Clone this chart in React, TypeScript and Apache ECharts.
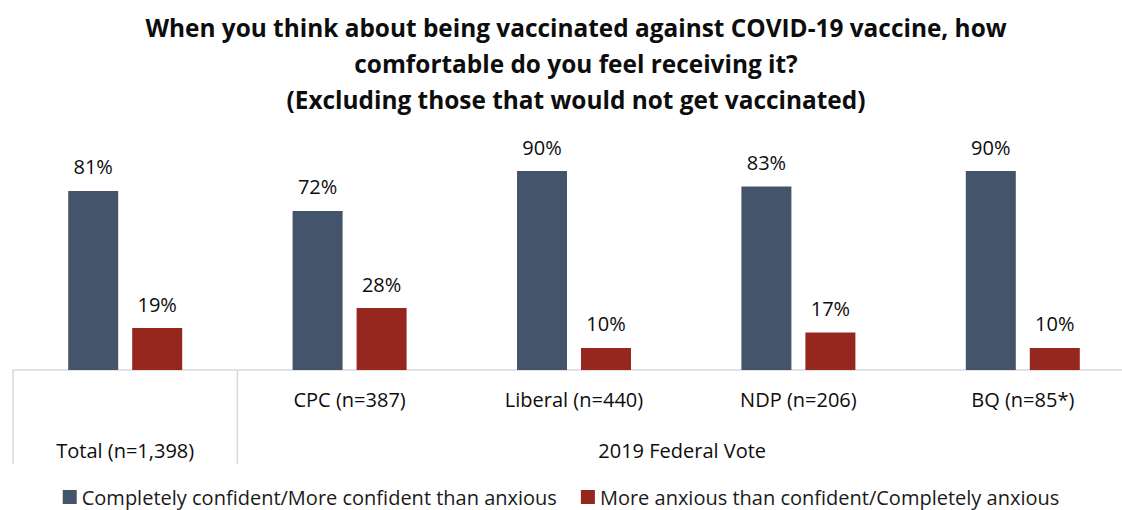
import React, { useEffect, useRef } from 'react';
import * as echarts from 'echarts';

const titleLines = [
  'When you think about being vaccinated against COVID-19 vaccine, how',
  'comfortable do you feel receiving it?',
  '(Excluding those that would not get vaccinated)',
];
const categories = ['Total (n=1,398)', 'CPC (n=387)', 'Liberal (n=440)', 'NDP (n=206)', 'BQ (n=85*)'];
const groupLabel = '2019 Federal Vote';
const seriesNames = [
  'Completely confident/More confident than anxious',
  'More anxious than confident/Completely anxious',
];
const confident = [81, 72, 90, 83, 90];
const anxious = [19, 28, 10, 17, 10];

const FONT = 'Open Sans';
const BLUE = '#44546A';
const RED = '#95271F';
const LINE = '#D9D9D9';

export default function App() {
  const ref = useRef<HTMLDivElement>(null);
  useEffect(() => {
    if (!ref.current) return;
    const chart = echarts.init(ref.current, undefined, { renderer: 'svg' });
    const label = {
      show: true,
      position: 'top' as const,
      distance: 14,
      formatter: '{c}%',
      color: '#0D0D0D',
      fontFamily: FONT,
      fontSize: 20,
    };
    chart.setOption({
      animation: false,
      title: {
        text: titleLines.join('\n'),
        left: 576,
        textAlign: 'center',
        top: 9,
        padding: 0,
        textStyle: {
          fontFamily: FONT,
          fontWeight: 'bold',
          fontSize: 24.4,
          lineHeight: 36,
          color: '#0D0D0D',
        },
      },
      legend: {
        top: 482,
        left: 'center',
        icon: 'rect',
        itemWidth: 14,
        itemHeight: 14,
        itemGap: 24,
        textStyle: { fontFamily: FONT, fontSize: 20, color: '#1A1A1A' },
        data: seriesNames,
      },
      grid: {
        left: 13,
        width: 1122,
        top: 149,
        bottom: 140,
        containLabel: false,
        outerBoundsMode: 'none',
      },
      xAxis: {
        type: 'category',
        data: categories,
        axisLine: { lineStyle: { color: LINE, width: 1.5 } },
        axisTick: { show: false },
        axisLabel: {
          margin: 19,
          fontFamily: FONT,
          fontSize: 20,
          color: '#0D0D0D',
          formatter: (v: string) => (v === categories[0] ? '' : v),
        },
      },
      yAxis: { type: 'value', min: 0, max: 100, show: false, splitLine: { show: false } },
      series: [
        {
          name: seriesNames[0],
          type: 'bar',
          data: confident,
          barWidth: 50,
          barGap: '28%',
          itemStyle: { color: BLUE },
          label,
        },
        {
          name: seriesNames[1],
          type: 'bar',
          data: anxious,
          barWidth: 50,
          itemStyle: { color: RED },
          label,
        },
      ],
    });
    const x0 = chart.convertToPixel({ xAxisIndex: 0 }, categories[0]) as number;
    const x1 = chart.convertToPixel({ xAxisIndex: 0 }, categories[1]) as number;
    const xl = chart.convertToPixel({ xAxisIndex: 0 }, categories[categories.length - 1]) as number;
    const step = x1 - x0;
    const leftB = x0 - step / 2;
    const divB = x0 + step / 2;
    const rightB = xl + step / 2;
    const y0 = chart.convertToPixel({ yAxisIndex: 0 }, 0) as number;
    const lineStyle = { stroke: LINE, lineWidth: 1.5 };
    const textStyle = { fontFamily: FONT, fontSize: 20, fill: '#0D0D0D', align: 'center', verticalAlign: 'middle' };
    chart.setOption({
      graphic: [
        { type: 'line', shape: { x1: leftB, y1: y0, x2: leftB, y2: y0 + 94 }, style: lineStyle, silent: true },
        { type: 'line', shape: { x1: divB, y1: y0, x2: divB, y2: y0 + 94 }, style: lineStyle, silent: true },
        { type: 'text', x: x0, y: y0 + 80, style: { text: categories[0], ...textStyle } },
        { type: 'text', x: (divB + rightB) / 2 - 4, y: y0 + 80, style: { text: groupLabel, ...textStyle } },
      ],
    });
    return () => chart.dispose();
  }, []);
  return (
    <div
      ref={ref}
      style={{ position: 'fixed', left: 0, top: 0, width: 1122, height: 510, background: '#fff' }}
    />
  );
}
